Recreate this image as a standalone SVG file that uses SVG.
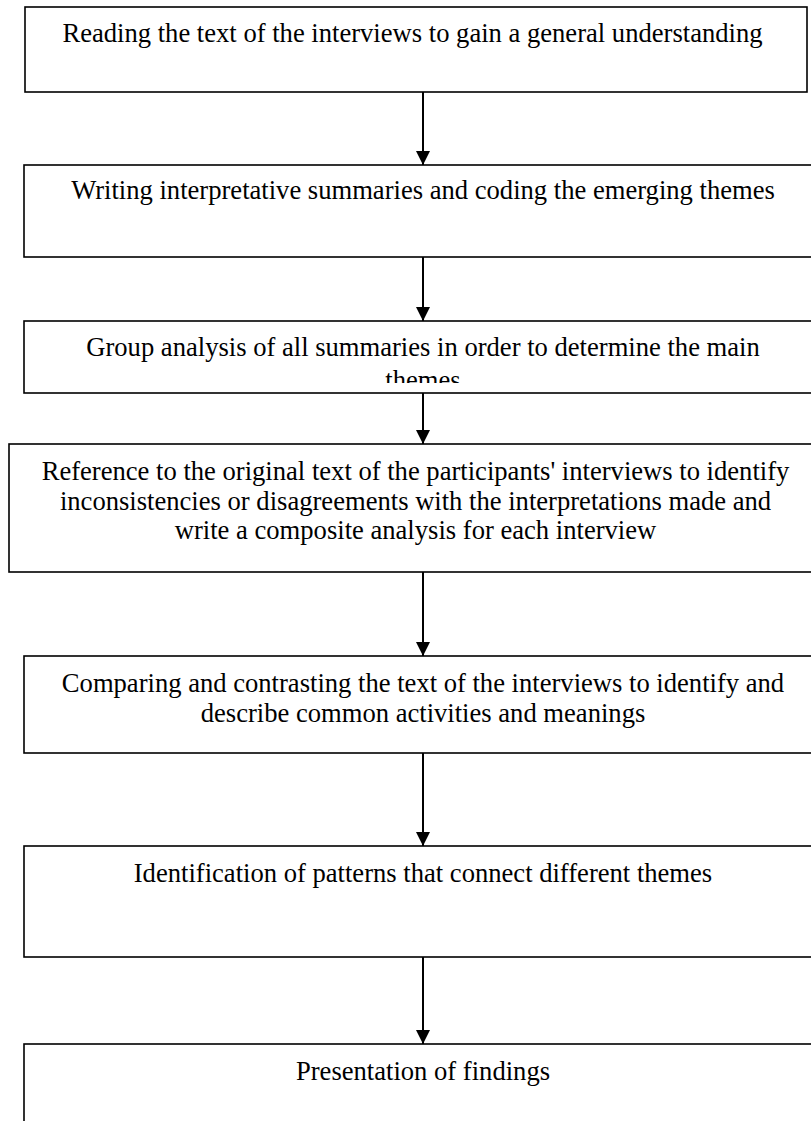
<svg xmlns="http://www.w3.org/2000/svg" width="811" height="1121" viewBox="0 0 811 1121">
<style>
.box{fill:#fff;stroke:#000;stroke-width:1.6}
.t{font-family:"Liberation Serif","Times New Roman",serif;font-size:26.6px;fill:#000;text-anchor:middle}
.c{stroke:#000;stroke-width:2;fill:none}
</style>
<defs>
<marker id="ah" viewBox="0 0 14 14" refX="14" refY="7" markerWidth="14" markerHeight="14" markerUnits="userSpaceOnUse" orient="auto">
<path d="M0,0 L14,7 L0,14 Z" fill="#000"/>
</marker>
<clipPath id="clip3"><rect x="24" y="321" width="800" height="62"/></clipPath>
</defs>
<rect width="811" height="1121" fill="#fff"/>
<g id="n1">
<rect class="box" x="25" y="7" width="782" height="85"/>
<text class="t" x="412.5" y="42">Reading the text of the interviews to gain a general understanding</text>
</g>
<g id="n2">
<rect class="box" x="24" y="165" width="800" height="92"/>
<text class="t" x="423" y="199">Writing interpretative summaries and coding the emerging themes</text>
</g>
<g id="n3">
<rect class="box" x="24" y="321" width="800" height="72"/>
<g clip-path="url(#clip3)">
<text class="t" x="423" y="356">Group analysis of all summaries in order to determine the main</text>
<text class="t" x="423" y="389">themes</text>
</g>
</g>
<g id="n4">
<rect class="box" x="9" y="444" width="815" height="128"/>
<text class="t" x="415.5" y="480">Reference to the original text of the participants' interviews to identify</text>
<text class="t" x="415.5" y="509.5">inconsistencies or disagreements with the interpretations made and</text>
<text class="t" x="415.5" y="539">write a composite analysis for each interview</text>
</g>
<g id="n5">
<rect class="box" x="24" y="656" width="800" height="97"/>
<text class="t" x="423" y="692">Comparing and contrasting the text of the interviews to identify and</text>
<text class="t" x="423" y="722">describe common activities and meanings</text>
</g>
<g id="n6">
<rect class="box" x="24" y="846" width="800" height="111"/>
<text class="t" x="423" y="882">Identification of patterns that connect different themes</text>
</g>
<g id="n7">
<rect class="box" x="24" y="1044" width="800" height="200"/>
<text class="t" x="423" y="1080">Presentation of findings</text>
</g>
<g id="connectors">
<line class="c" x1="423" y1="92" x2="423" y2="165" marker-end="url(#ah)"/>
<line class="c" x1="423" y1="257" x2="423" y2="321" marker-end="url(#ah)"/>
<line class="c" x1="423" y1="393" x2="423" y2="444" marker-end="url(#ah)"/>
<line class="c" x1="423" y1="572" x2="423" y2="656" marker-end="url(#ah)"/>
<line class="c" x1="423" y1="753" x2="423" y2="846" marker-end="url(#ah)"/>
<line class="c" x1="423" y1="957" x2="423" y2="1044" marker-end="url(#ah)"/>
</g>
</svg>
